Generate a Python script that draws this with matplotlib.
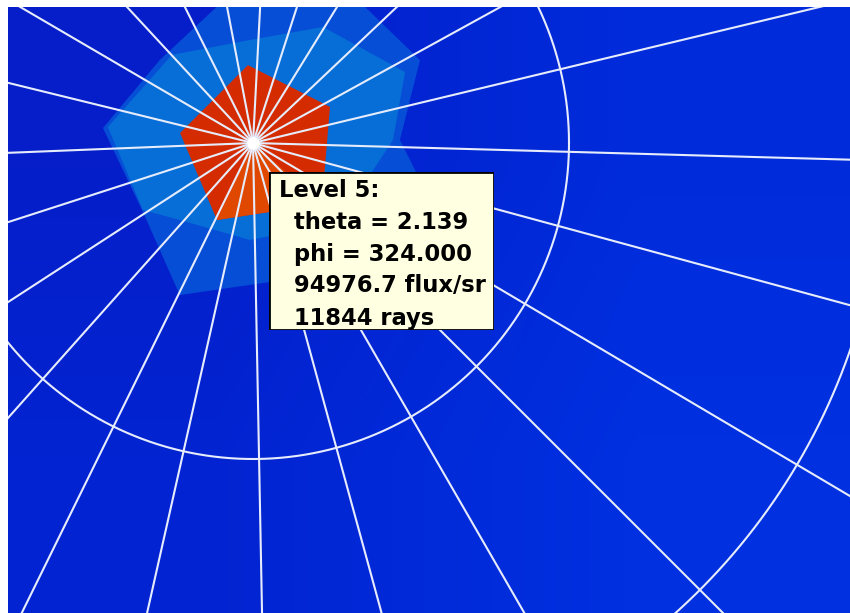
import numpy as np
import matplotlib
matplotlib.use("Agg")
import matplotlib.pyplot as plt
from matplotlib.patches import Polygon, Rectangle

# ---- data -------------------------------------------------------------
# polar grid: constant-theta rings (deg) and constant-phi spokes (deg)
theta_rings = [10.0, 20.0]
phi_spokes = [-1.6, 13.5, 28.8, 43.4, 58.3, 72.1, 87.0, 100.8, 116.6, 132.8,
              149.7, 166.2, 182.3, 197.9, 213.0, 228.3, 243.8, 257.3, 271.1,
              285.3, 300.0, 315.0, 329.4, 344.8]

# intensity level regions as (phi deg, theta deg) vertices
level3_phi = [174.3, 138.3, 102.4, 72.9, 52.8, 26.4, 1.2, -17.8, -39.5,
              -83.0, -115.7, -147.9]
level3_theta = [4.77, 3.95, 4.57, 5.06, 5.60, 5.90, 4.65, 5.88, 5.82,
                4.43, 5.34, 4.11]
level4_phi = [173.7, 132.6, 91.7, 58.9, 25.0, 1.2, -23.7, -61.6, -91.8,
              -133.5, -148.7]
level4_theta = [4.62, 3.79, 3.26, 4.29, 5.31, 4.43, 3.70, 3.13, 3.07,
                3.36, 4.08]
level5_phi = [93.7, 25.1, -41.5, -115.1, 172.2]
level5_theta = [2.47, 2.69, 2.91, 2.69, 2.33]

level_colors = {3: "#064ed6", 4: "#066ed6", 5: "#d42c00"}
warm_edge_color = "#e04800"

tooltip_lines = ["Level 5:", "theta = 2.139", "phi = 324.000",
                 "94976.7 flux/sr", "11844 rays"]

# ---- figure -----------------------------------------------------------
W, H, DPI = 850, 613, 100
px_per_deg = 31.6
cx, cy = 253, 143          # pixel position of theta = 0
left_px, top_px = 8, 7

fig = plt.figure(figsize=(W / DPI, H / DPI), dpi=DPI)
fig.patch.set_facecolor("white")
ax = fig.add_axes([left_px / W, 0, (W - left_px) / W, (H - top_px) / H])
x0 = (left_px - cx) / px_per_deg
x1 = (W - cx) / px_per_deg
y0 = (cy - H) / px_per_deg
y1 = (cy - top_px) / px_per_deg
ax.set_xlim(x0, x1)
ax.set_ylim(y0, y1)
ax.set_axis_off()

# smooth background shading
bg = np.array([[[0.02, 0.12, 0.79], [0.00, 0.17, 0.86]],
               [[0.01, 0.14, 0.82], [0.00, 0.19, 0.88]]])
ax.imshow(bg, extent=(x0, x1, y0, y1), interpolation="bilinear",
          aspect="auto", zorder=0)


def polar_xy(phi_deg, theta):
    p = np.radians(np.asarray(phi_deg, float))
    t = np.asarray(theta, float)
    return np.column_stack([t * np.cos(p), t * np.sin(p)])


for lvl, phis, thetas in [(3, level3_phi, level3_theta),
                          (4, level4_phi, level4_theta),
                          (5, level5_phi, level5_theta)]:
    ax.add_patch(Polygon(polar_xy(phis, thetas), closed=True,
                         facecolor=level_colors[lvl], edgecolor="none",
                         zorder=1 + lvl * 0.1))

# warmer wedge inside the peak level
pent = polar_xy(level5_phi, level5_theta)
ax.add_patch(Polygon([[0, 0], pent[2], pent[3]], closed=True,
                     facecolor=warm_edge_color, edgecolor="none", zorder=1.6))

# grid
reach = 40.0
for phi in phi_spokes:
    xy = polar_xy([phi, phi], [0, reach])
    ax.plot(xy[:, 0], xy[:, 1], color="#e6ecfc", lw=1.5, zorder=3,
            solid_capstyle="butt")
ang = np.linspace(0, 360, 721)
for t in theta_rings:
    xy = polar_xy(ang, np.full_like(ang, t))
    ax.plot(xy[:, 0], xy[:, 1], color="#e6ecfc", lw=1.5, zorder=3)
ax.plot([0], [0], "o", color="white", ms=8, zorder=4)

# tooltip box (pixel coordinates)
bx0, by0, bx1, by1 = 269, 172, 494, 330
tip = fig.add_axes([bx0 / W, 1 - by1 / H, (bx1 - bx0) / W, (by1 - by0) / H])
tip.set_xlim(0, bx1 - bx0)
tip.set_ylim(by1 - by0, 0)
tip.set_axis_off()
tip.add_patch(Rectangle((0, 0), bx1 - bx0, by1 - by0, facecolor="#ffffe1",
                        edgecolor="black", lw=2.0))
line_y = [18, 50, 82, 114, 146]
line_x = [10, 25, 25, 25, 25]
for tx, ty, s in zip(line_x, line_y, tooltip_lines):
    tip.text(tx, ty, s, fontsize=16.3, fontweight="bold",
             family="DejaVu Sans", va="center", ha="left", color="black")

fig.savefig("out.png", dpi=DPI, facecolor="white")
